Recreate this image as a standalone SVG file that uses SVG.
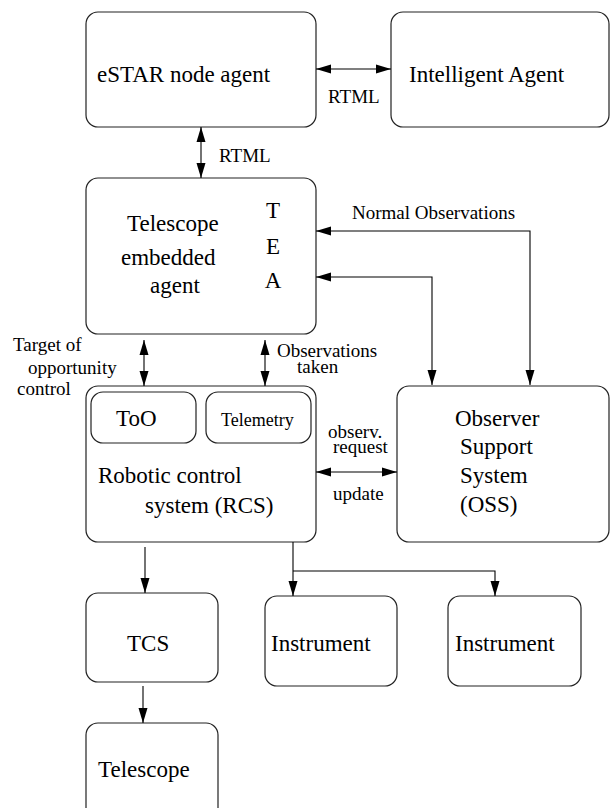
<svg xmlns="http://www.w3.org/2000/svg" width="613" height="808" viewBox="0 0 613 808">
<style>
.box{fill:#fff;stroke:#222;stroke-width:1.2}
.ln{fill:none;stroke:#000;stroke-width:1.1}
.t{font-family:"Liberation Serif","Times New Roman",serif;font-size:23px;fill:#000}
.s{font-family:"Liberation Serif","Times New Roman",serif;font-size:19px;fill:#000}
</style>
<defs>
<marker id="ah" markerUnits="userSpaceOnUse" markerWidth="16" markerHeight="10" refX="15" refY="4.5" orient="auto-start-reverse" viewBox="0 0 16 9"><path d="M0,0 L15,4.5 L0,9 z" fill="#000"/></marker>
</defs>
<rect width="613" height="808" fill="#fff"/>
<g id="estar"><rect class="box" x="86" y="12" width="230" height="115" rx="12"/><text class="t" x="97" y="82">eSTAR node agent</text></g>
<g id="intelligent"><rect class="box" x="391" y="12" width="218" height="115" rx="12"/><text class="t" x="409" y="82">Intelligent Agent</text></g>
<g id="tea"><rect class="box" x="86" y="178" width="230" height="156" rx="12"/>
<text class="t" x="127" y="231">Telescope</text><text class="t" x="121" y="265">embedded</text><text class="t" x="150" y="293">agent</text>
<text class="t" x="273" y="218" text-anchor="middle">T</text><text class="t" x="273" y="254" text-anchor="middle">E</text><text class="t" x="273" y="288" text-anchor="middle">A</text></g>
<g id="rcs"><rect class="box" x="86" y="386" width="230" height="156" rx="12"/>
<text class="t" x="98" y="483">Robotic control</text><text class="t" x="145" y="513">system (RCS)</text></g>
<g id="too"><rect class="box" x="91" y="392" width="105" height="51" rx="12"/><text class="t" x="116" y="426">ToO</text></g>
<g id="telemetry"><rect class="box" x="206" y="392" width="105" height="51" rx="12"/><text class="s" x="221" y="426" style="font-size:18px">Telemetry</text></g>
<g id="oss"><rect class="box" x="397" y="386" width="212" height="156" rx="12"/>
<text class="t" x="455" y="426">Observer</text><text class="t" x="460" y="454">Support</text><text class="t" x="460" y="483">System</text><text class="t" x="460" y="512">(OSS)</text></g>
<g id="tcs"><rect class="box" x="86" y="593" width="132" height="89" rx="12"/><text class="t" x="127" y="651">TCS</text></g>
<g id="instrument1"><rect class="box" x="265" y="596" width="132" height="90" rx="12"/><text class="t" x="271" y="651">Instrument</text></g>
<g id="instrument2"><rect class="box" x="448" y="596" width="133" height="90" rx="12"/><text class="t" x="455" y="651">Instrument</text></g>
<g id="telescope"><rect class="box" x="86" y="723" width="132" height="110" rx="12"/><text class="t" x="98" y="777">Telescope</text></g>
<g id="connectors">
<path class="ln" d="M316,69 H391" marker-start="url(#ah)" marker-end="url(#ah)"/>
<path class="ln" d="M201,127 V178" marker-start="url(#ah)" marker-end="url(#ah)"/>
<path class="ln" d="M530,385 V231 H316" marker-start="url(#ah)" marker-end="url(#ah)"/>
<path class="ln" d="M432,385 V277 H316" marker-start="url(#ah)" marker-end="url(#ah)"/>
<path class="ln" d="M144,340 V386" marker-start="url(#ah)" marker-end="url(#ah)"/>
<path class="ln" d="M265,340 V386" marker-start="url(#ah)" marker-end="url(#ah)"/>
<path class="ln" d="M316,472 H397" marker-start="url(#ah)" marker-end="url(#ah)"/>
<path class="ln" d="M145,547 V593" marker-end="url(#ah)"/>
<path class="ln" d="M293,542 V596" marker-end="url(#ah)"/>
<path class="ln" d="M293,571 H495 V596" marker-end="url(#ah)"/>
<path class="ln" d="M143,686 V723" marker-end="url(#ah)"/>
<text class="s" x="328" y="103">RTML</text>
<text class="s" x="219" y="162">RTML</text>
<text class="s" x="352" y="219">Normal Observations</text>
<text class="s" x="13" y="351">Target of</text>
<text class="s" x="28" y="374">opportunity</text>
<text class="s" x="17" y="395">control</text>
<text class="s" x="277" y="357">Observations</text>
<text class="s" x="297" y="373">taken</text>
<text class="s" x="328" y="438">observ.</text>
<text class="s" x="333" y="453">request</text>
<text class="s" x="333" y="500">update</text>
</g>
</svg>
